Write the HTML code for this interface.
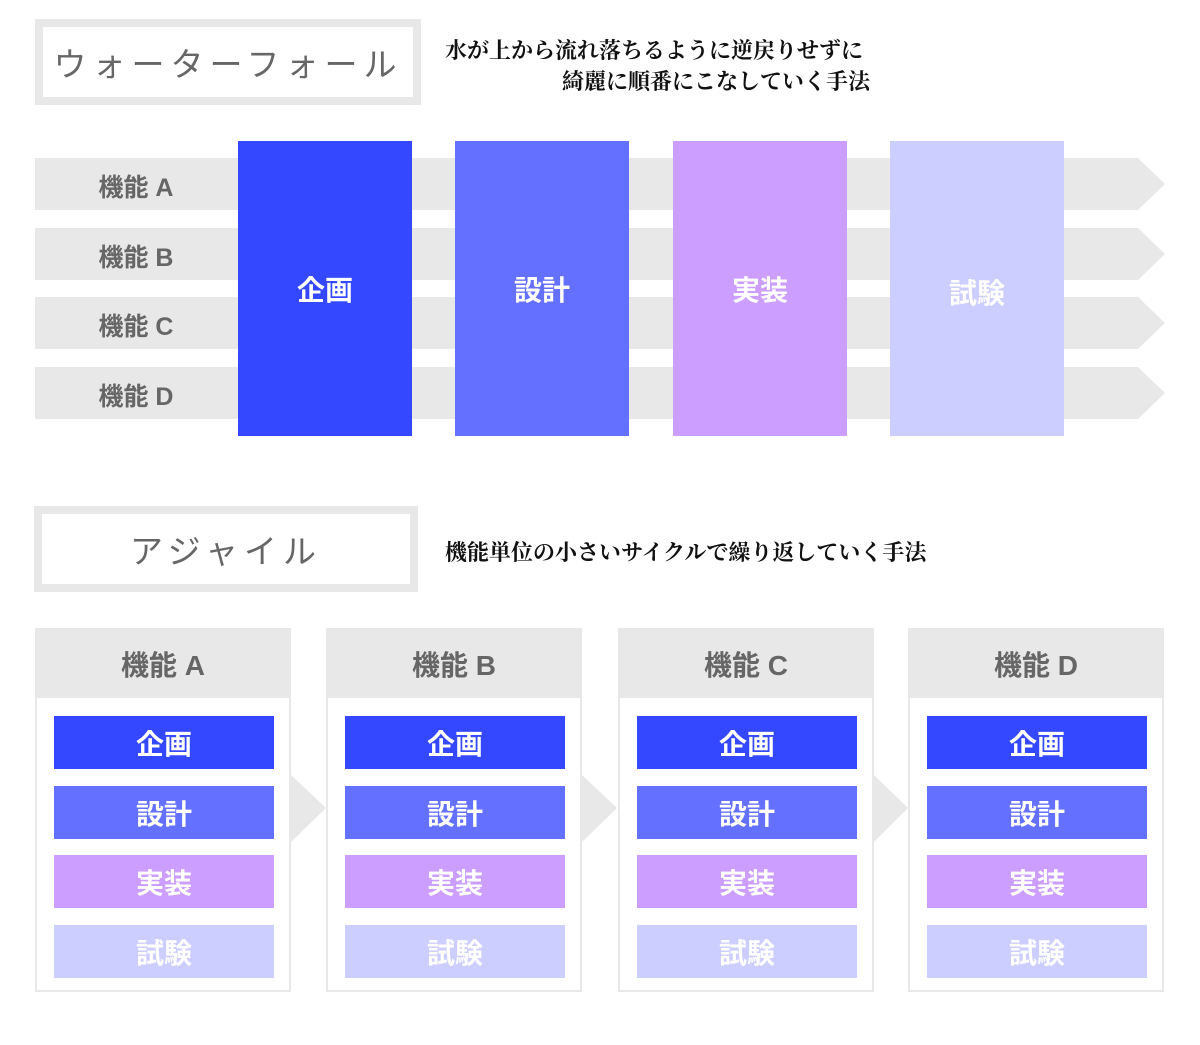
<!DOCTYPE html>
<html><head><meta charset="utf-8"><style>
body{margin:0;width:1200px;height:1045px;background:#fff;position:relative;overflow:hidden;font-family:"Liberation Sans","Noto Sans CJK JP",sans-serif}
.a{position:absolute}
.tb{position:absolute;background:#fff;border:8px solid #e8e8e8;box-sizing:border-box;color:#666;font-size:33px;display:flex;align-items:center;justify-content:center;letter-spacing:6px}
.desc{position:absolute;font-family:"Liberation Serif","Noto Serif CJK SC",serif;font-size:22px;font-weight:bold;color:#111;white-space:nowrap}
.lbl{position:absolute;color:#666;font-weight:bold;font-size:25px;width:200px;text-align:center}
.ph{position:absolute;color:#fff;font-weight:bold;font-size:28px;display:flex;align-items:center;justify-content:center}
.card{position:absolute;width:256px;height:364px;border:2px solid #e8e8e8;box-sizing:border-box;background:#fff}
.hd{position:absolute;left:0;top:0;right:0;height:68px;background:#e8e8e8;color:#666;font-weight:bold;font-size:28px;display:flex;align-items:center;justify-content:center}
.st{position:absolute;left:17px;width:220px;height:53px;color:#fff;font-weight:bold;font-size:28px;display:flex;align-items:center;justify-content:center}
</style></head><body>
<div class="tb" style="left:35px;top:19px;width:386px;height:86px">ウォーターフォール</div>
<div class="desc" style="left:445px;top:34px">水が上から流れ落ちるように逆戻りせずに</div>
<div class="desc" style="left:562px;top:65px">綺麗に順番にこなしていく手法</div>

<svg class="a" style="left:0;top:0" width="1200" height="450">
<polygon points="35,158 1138,158 1165,184 1138,210 35,210" fill="#e8e8e8"/>
<polygon points="35,228 1138,228 1165,254 1138,280 35,280" fill="#e8e8e8"/>
<polygon points="35,297 1138,297 1165,323 1138,349 35,349" fill="#e8e8e8"/>
<polygon points="35,367 1138,367 1165,393 1138,419 35,419" fill="#e8e8e8"/>
</svg>
<div class="lbl" style="left:36px;top:168px">機能 A</div>
<div class="lbl" style="left:36px;top:238px">機能 B</div>
<div class="lbl" style="left:36px;top:307px">機能 C</div>
<div class="lbl" style="left:36px;top:377px">機能 D</div>

<div class="ph" style="left:238px;top:141px;width:174px;height:295px;background:#3448ff">企画</div>
<div class="ph" style="left:455px;top:141px;width:174px;height:295px;background:#6470ff">設計</div>
<div class="ph" style="left:673px;top:141px;width:174px;height:295px;background:#cc9eff">実装</div>
<div class="ph" style="left:890px;top:141px;width:174px;height:295px;background:#ccceff;padding-top:6px;box-sizing:border-box">試験</div>

<div class="tb" style="left:34px;top:506px;width:384px;height:86px">アジャイル</div>
<div class="desc" style="left:445px;top:536px">機能単位の小さいサイクルで繰り返していく手法</div>

<svg class="a" style="left:0;top:600px" width="1200" height="300">
<polygon points="291,175 326,208 291,242" fill="#e8e8e8"/>
<polygon points="582,175 617,208 582,242" fill="#e8e8e8"/>
<polygon points="874,175 908,208 874,242" fill="#e8e8e8"/>
</svg>

<div class="card" style="left:35px;top:628px">
<div class="hd">機能 A</div>
<div class="st" style="top:86px;background:#3448ff">企画</div>
<div class="st" style="top:156px;background:#6470ff">設計</div>
<div class="st" style="top:225px;background:#cc9eff">実装</div>
<div class="st" style="top:295px;background:#ccceff">試験</div>
</div>
<div class="card" style="left:326px;top:628px">
<div class="hd">機能 B</div>
<div class="st" style="top:86px;background:#3448ff">企画</div>
<div class="st" style="top:156px;background:#6470ff">設計</div>
<div class="st" style="top:225px;background:#cc9eff">実装</div>
<div class="st" style="top:295px;background:#ccceff">試験</div>
</div>
<div class="card" style="left:618px;top:628px">
<div class="hd">機能 C</div>
<div class="st" style="top:86px;background:#3448ff">企画</div>
<div class="st" style="top:156px;background:#6470ff">設計</div>
<div class="st" style="top:225px;background:#cc9eff">実装</div>
<div class="st" style="top:295px;background:#ccceff">試験</div>
</div>
<div class="card" style="left:908px;top:628px">
<div class="hd">機能 D</div>
<div class="st" style="top:86px;background:#3448ff">企画</div>
<div class="st" style="top:156px;background:#6470ff">設計</div>
<div class="st" style="top:225px;background:#cc9eff">実装</div>
<div class="st" style="top:295px;background:#ccceff">試験</div>
</div>
</body></html>
